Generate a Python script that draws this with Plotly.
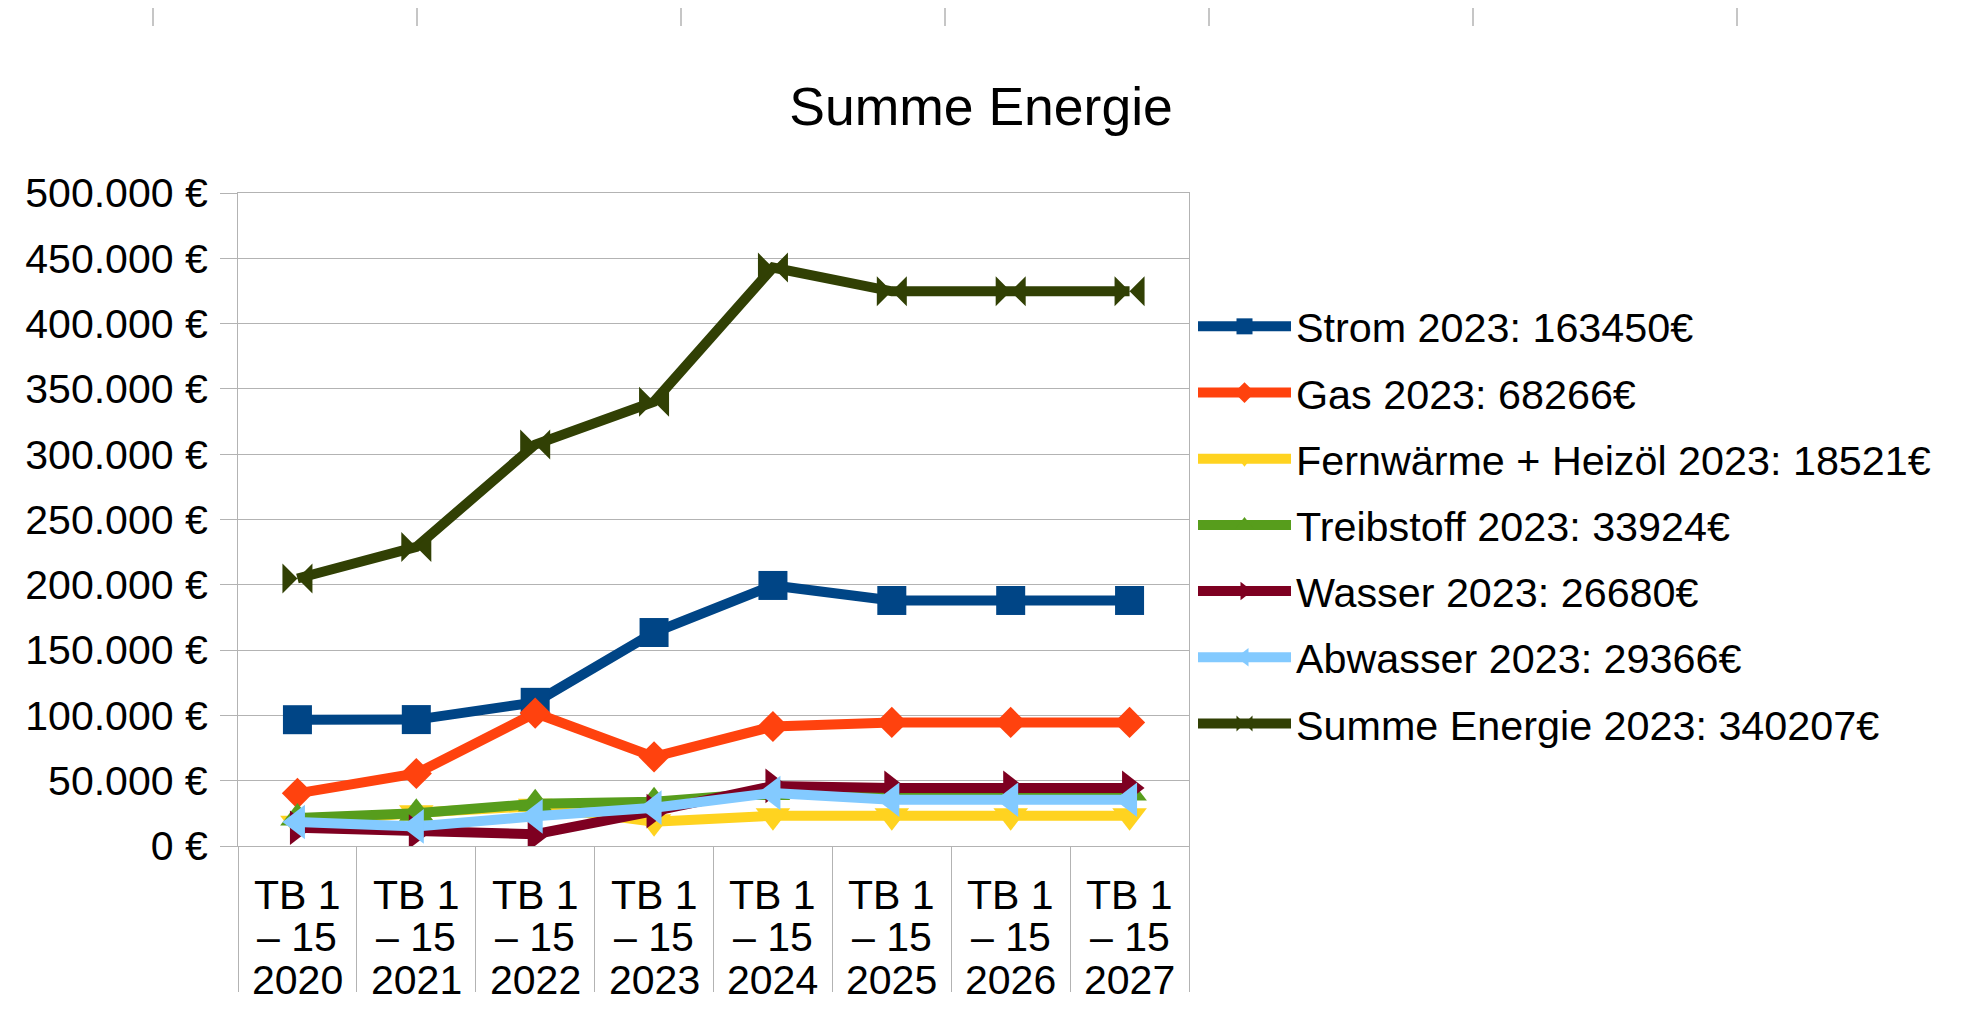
import plotly.graph_objects as go

# ---------------- data ----------------
years = ["2020", "2021", "2022", "2023", "2024", "2025", "2026", "2027"]
label_prefix_1 = "TB 1"
label_prefix_2 = "– 15"
categories = [f"{label_prefix_1} {label_prefix_2} {y}" for y in years]

strom = [96700, 96800, 110000, 163450, 199500, 188000, 188000, 188000]
gas = [40300, 55500, 101800, 68266, 91500, 94600, 94600, 94600]
fernwaerme = [17500, 25500, 30500, 18521, 23200, 23200, 23200, 23200]
treibstoff = [21500, 25000, 32300, 33924, 41000, 40500, 40500, 40500]
wasser = [14000, 11000, 9000, 26680, 46000, 44500, 44500, 44500]
abwasser = [18400, 15000, 22700, 29366, 40600, 35400, 35400, 35400]
summe = [204800, 229000, 307400, 340207, 442900, 424700, 424700, 424700]

series_names = [
    "Strom 2023: 163450€",
    "Gas 2023: 68266€",
    "Fernwärme + Heizöl 2023: 18521€",
    "Treibstoff 2023: 33924€",
    "Wasser 2023: 26680€",
    "Abwasser 2023: 29366€",
    "Summe Energie 2023: 340207€",
]
series_values = [strom, gas, fernwaerme, treibstoff, wasser, abwasser, summe]

y_tickvals = [0, 50000, 100000, 150000, 200000, 250000, 300000, 350000, 400000, 450000, 500000]
y_ticktext = ["0 €", "50.000 €", "100.000 €", "150.000 €", "200.000 €", "250.000 €",
              "300.000 €", "350.000 €", "400.000 €", "450.000 €", "500.000 €"]

# ---------------- style ----------------
colors = ["#004586", "#ff420e", "#ffd320", "#579d1c", "#7e0021", "#83caff", "#314004"]
symbols = ["square", "diamond", "triangle-down", "triangle-up", "triangle-right",
           "triangle-left", "bowtie"]
sizes = [29, 24, 30, 30, 30, 30, 30]

FONT = "Liberation Sans"
OFF = 8  # default page margin of the html body
W, H = 1962 - 2 * OFF, 1024 - 2 * OFF
L = 238 - OFF
T = 193 - OFF
R = W - (1189 - OFF)
B = H - (846 - OFF)
PW, PH = W - L - R, H - T - B
GRID = "#b3b3b3"


def px_to_paper_x(px):
    return (px - OFF - L) / PW


def px_to_paper_y(py):
    return (H - B - (py - OFF)) / PH


fig = go.Figure()
for i, (name, vals) in enumerate(zip(series_names, series_values)):
    fig.add_trace(go.Scatter(
        x=categories, y=vals, name=name, mode="lines+markers",
        line=dict(color=colors[i], width=10),
        marker=dict(symbol=symbols[i], size=sizes[i], color=colors[i], line=dict(width=0)),
        legendgroup=f"g{i}",
    ))

# category labels as three lines below the axis
label_rows_px = [894.7, 937.0, 979.8]
annotations = []
for cat, yr in zip(categories, years):
    for row_text, row_px in zip([label_prefix_1, label_prefix_2, yr], label_rows_px):
        annotations.append(dict(
            x=cat, xref="x", y=px_to_paper_y(row_px), yref="paper",
            text=row_text, showarrow=False, xanchor="center", yanchor="middle",
            font=dict(family=FONT, size=41, color="#000000"),
        ))

# spreadsheet column separators at the very top
col_lines_px = [153, 417, 681, 945, 1209, 1473, 1737]
shapes = []
for cx in col_lines_px:
    shapes.append(dict(type="line", xref="paper", yref="paper",
                       x0=px_to_paper_x(cx), x1=px_to_paper_x(cx),
                       y0=px_to_paper_y(OFF), y1=px_to_paper_y(26),
                       line=dict(color="#a0a0a0", width=1.2)))

fig.update_layout(
    width=W, height=H,
    margin=dict(l=L, r=R, t=T, b=B, autoexpand=False),
    paper_bgcolor="white", plot_bgcolor="white",
    font=dict(family=FONT, color="#000000"),
    title=dict(text="Summe Energie", x=(981 - OFF) / W, xref="container", xanchor="center",
               y=1 - (106 - OFF) / H, yref="container", yanchor="middle",
               font=dict(family=FONT, size=53.5, color="#000000")),
    showlegend=True,
    legend=dict(xref="container", yref="container", x=(1193 - OFF) / W, y=1 - (293 - OFF) / H,
                xanchor="left", yanchor="top",
                font=dict(family=FONT, size=41.3, color="#000000"),
                itemwidth=93, tracegroupgap=9.5, traceorder="grouped",
                bgcolor="rgba(0,0,0,0)", borderwidth=0),
    annotations=annotations,
    shapes=shapes,
)

fig.update_xaxes(
    type="category", range=[-0.5, len(categories) - 0.5],
    showgrid=False, showline=True, linecolor=GRID, linewidth=1.2, mirror=True,
    ticks="outside", tickson="boundaries", ticklen=145, tickcolor=GRID, tickwidth=1.2,
    showticklabels=False, zeroline=False,
)
fig.update_yaxes(
    range=[0, 500000], tickvals=y_tickvals, ticktext=y_ticktext,
    showgrid=True, gridcolor=GRID, gridwidth=1.2,
    showline=True, linecolor=GRID, linewidth=1.2, mirror=True,
    ticks="outside", ticklen=17, tickcolor=GRID, tickwidth=1.2,
    ticklabelstandoff=4,
    tickfont=dict(family=FONT, size=41, color="#000000"), zeroline=False,
)

fig.write_html("out.html")
